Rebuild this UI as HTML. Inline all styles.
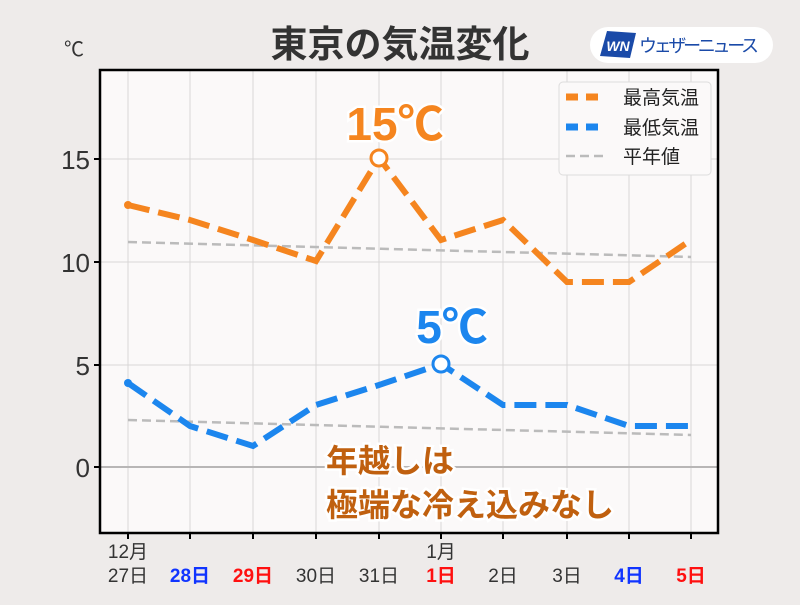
<!DOCTYPE html>
<html><head><meta charset="utf-8"><style>
html,body{margin:0;padding:0;background:#eeebea;}
svg text{font-family:"Liberation Sans","Noto Sans CJK JP",sans-serif;}
</style></head><body>
<svg width="800" height="600" viewBox="0 0 800 600" xmlns="http://www.w3.org/2000/svg">
<rect width="800" height="600" fill="#eeebea"/>
<text x="400" y="57" text-anchor="middle" font-size="37" font-weight="bold" fill="#333">東京の気温変化</text>
<text x="64" y="56" font-size="20" fill="#333">℃</text>
<rect x="590" y="27" width="183" height="36" rx="18" fill="#fff"/>
<polygon points="607,31 636,33 630,58 600,56" fill="#1a4aa8"/>
<text x="618" y="51" text-anchor="middle" font-size="14" font-weight="bold" font-style="italic" fill="#fff">WN</text>
<text x="639" y="52" font-size="18" fill="#1a4aa8" textLength="120">ウェザーニュース</text>
<rect x="100" y="70" width="618" height="463" fill="#fbf9f9"/>
<g stroke="#d8d6d6" stroke-width="1">
<line x1="128" y1="70" x2="128" y2="533"/><line x1="190" y1="70" x2="190" y2="533"/><line x1="253" y1="70" x2="253" y2="533"/><line x1="316" y1="70" x2="316" y2="533"/><line x1="379" y1="70" x2="379" y2="533"/><line x1="441" y1="70" x2="441" y2="533"/><line x1="503" y1="70" x2="503" y2="533"/><line x1="567" y1="70" x2="567" y2="533"/><line x1="629" y1="70" x2="629" y2="533"/><line x1="691" y1="70" x2="691" y2="533"/>
<line x1="100" y1="159" x2="718" y2="159"/><line x1="100" y1="262" x2="718" y2="262"/><line x1="100" y1="365" x2="718" y2="365"/>
</g>
<line x1="100" y1="467" x2="718" y2="467" stroke="#b8b6b6" stroke-width="2"/>
<polyline points="128,242 691,257" fill="none" stroke="#bbb" stroke-width="2.5" stroke-dasharray="9,5"/>
<polyline points="128,420 691,435" fill="none" stroke="#bbb" stroke-width="2.5" stroke-dasharray="9,5"/>
<polyline points="128,205 190,220 253,240 316,261 379,158 441,240 503,220 567,282 629,282 691,240" fill="none" stroke="#f5851f" stroke-width="6" stroke-dasharray="22,9"/>
<polyline points="128,383 190,426 253,446 316,405 379,385 441,364 503,405 567,405 629,426 691,426" fill="none" stroke="#1c86ee" stroke-width="6" stroke-dasharray="22,9"/>
<circle cx="128" cy="205" r="4" fill="#f5851f"/><circle cx="128" cy="383" r="4" fill="#1c86ee"/>
<circle cx="379" cy="158" r="8" fill="#fff" stroke="#f5851f" stroke-width="3"/>
<circle cx="441" cy="364" r="8" fill="#fff" stroke="#1c86ee" stroke-width="3"/>
<text x="395" y="140" text-anchor="middle" font-size="46" font-weight="bold" fill="#f5851f" stroke="#fff" stroke-width="5" paint-order="stroke">15℃</text>
<text x="452" y="343" text-anchor="middle" font-size="46" font-weight="bold" fill="#1c86ee" stroke="#fff" stroke-width="5" paint-order="stroke">5℃</text>
<g font-size="32" font-weight="bold" fill="#c0600f" stroke="#fff" stroke-width="5" paint-order="stroke">
<text x="326" y="472">年越しは</text><text x="326" y="516">極端な冷え込みなし</text></g>
<rect x="559" y="82" width="152" height="93" rx="4" fill="#fbf9f9" stroke="#ddd"/>
<line x1="566" y1="97" x2="606" y2="97" stroke="#f5851f" stroke-width="7" stroke-dasharray="12,8"/>
<line x1="566" y1="127" x2="606" y2="127" stroke="#1c86ee" stroke-width="7" stroke-dasharray="12,8"/>
<line x1="566" y1="156" x2="606" y2="156" stroke="#bbb" stroke-width="2.5" stroke-dasharray="9,5"/>
<g font-size="19" fill="#222"><text x="623" y="104">最高気温</text><text x="623" y="134">最低気温</text><text x="623" y="163">平年値</text></g>
<rect x="100" y="70" width="618" height="463" fill="none" stroke="#000" stroke-width="2.5"/>
<g stroke="#000" stroke-width="2">
<line x1="94" y1="159" x2="100" y2="159"/><line x1="94" y1="262" x2="100" y2="262"/><line x1="94" y1="365" x2="100" y2="365"/><line x1="94" y1="467" x2="100" y2="467"/>
<line x1="128" y1="533" x2="128" y2="539"/><line x1="190" y1="533" x2="190" y2="539"/><line x1="253" y1="533" x2="253" y2="539"/><line x1="316" y1="533" x2="316" y2="539"/><line x1="379" y1="533" x2="379" y2="539"/><line x1="441" y1="533" x2="441" y2="539"/><line x1="503" y1="533" x2="503" y2="539"/><line x1="567" y1="533" x2="567" y2="539"/><line x1="629" y1="533" x2="629" y2="539"/><line x1="691" y1="533" x2="691" y2="539"/>
</g>
<g font-size="26" fill="#333" text-anchor="end"><text x="90" y="169">15</text><text x="90" y="272">10</text><text x="90" y="375">5</text><text x="90" y="477">0</text></g>
<g font-size="19" fill="#333" text-anchor="middle">
<text x="128" y="558">12月</text><text x="441" y="558">1月</text>
<text x="128" y="582">27日</text><text x="316" y="582">30日</text><text x="379" y="582">31日</text><text x="503" y="582">2日</text><text x="567" y="582">3日</text>
<text x="190" y="582" fill="#1034ff" font-weight="bold">28日</text><text x="253" y="582" fill="#ff1010" font-weight="bold">29日</text>
<text x="441" y="582" fill="#ff1010" font-weight="bold">1日</text><text x="629" y="582" fill="#1034ff" font-weight="bold">4日</text><text x="691" y="582" fill="#ff1010" font-weight="bold">5日</text>
</g>
</svg>
</body></html>
